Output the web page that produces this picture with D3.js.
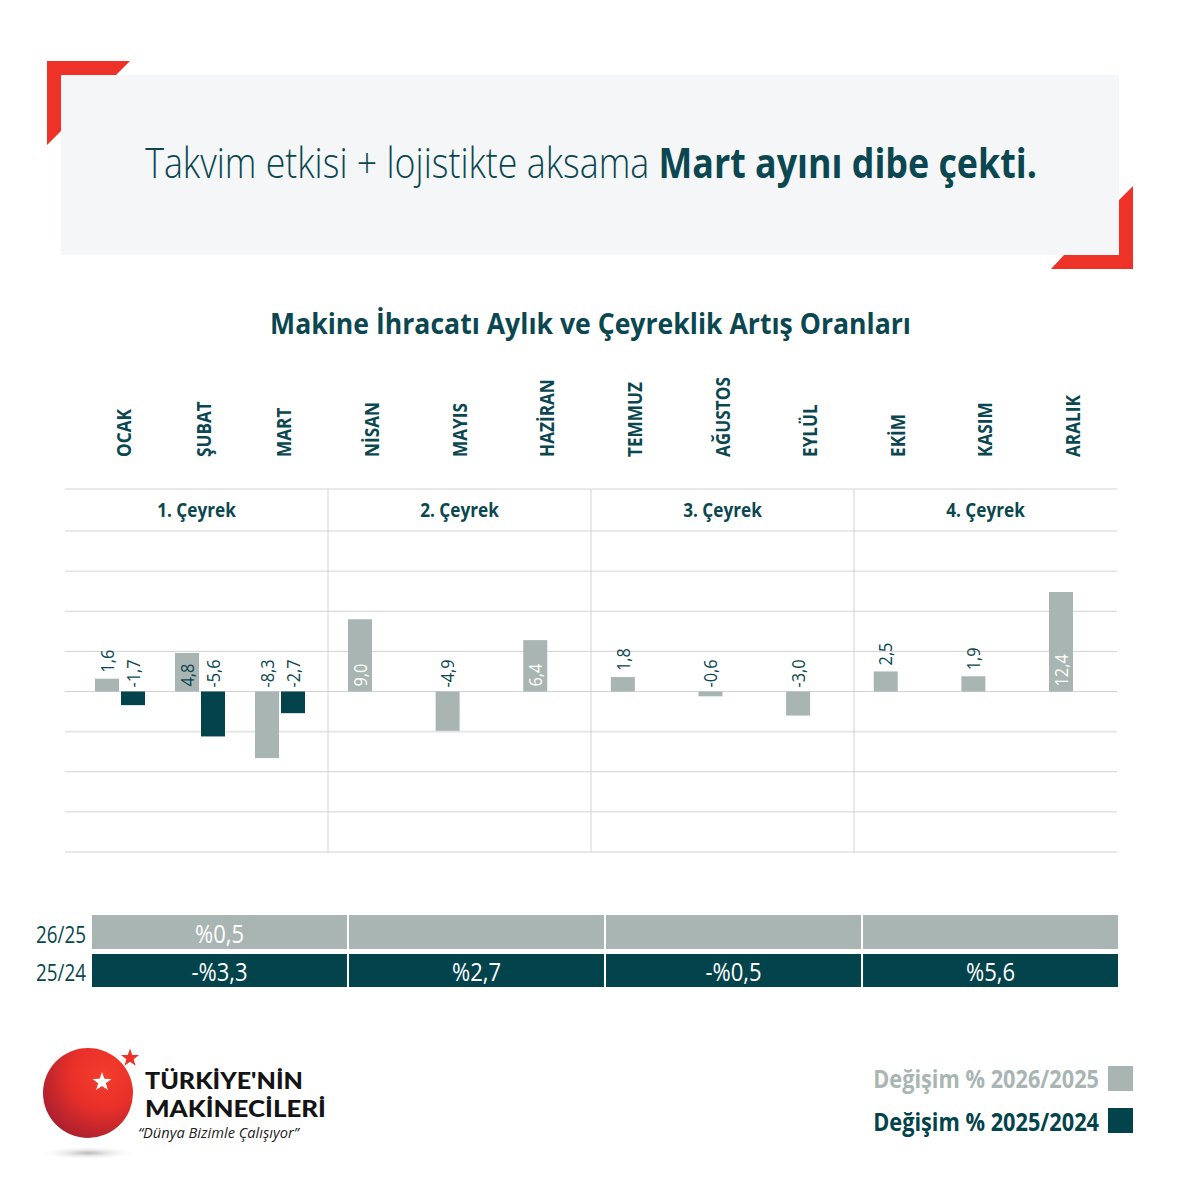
<!DOCTYPE html>
<html><head><meta charset="utf-8">
<script src="https://cdn.jsdelivr.net/npm/d3@7"></script>
<style>html,body{margin:0;padding:0;background:#fff;} svg{display:block;}</style>
</head><body>
<svg id="chart" width="1181" height="1181"></svg>
<script>
// ---------- DATA ----------
const months = ["OCAK","ŞUBAT","MART","NİSAN","MAYIS","HAZİRAN","TEMMUZ","AĞUSTOS","EYLÜL","EKİM","KASIM","ARALIK"];
const quarters = ["1. Çeyrek","2. Çeyrek","3. Çeyrek","4. Çeyrek"];
// light (gray) bars and dark bars, as drawn
const lightValues = [1.6, 4.8, -8.3, 9.0, -4.9, 6.4, 1.8, -0.6, -3.0, 2.5, 1.9, 12.4];
const darkValues  = [-1.7, -5.6, -2.7, null, null, null, null, null, null, null, null, null];
// quarterly table
const rowLabels = ["26/25", "25/24"];
const quarterly2625 = [0.5, null, null, null];
const quarterly2524 = [-3.3, 2.7, -0.5, 5.6];
const legendLabels = ["Değişim % 2026/2025", "Değişim % 2025/2024"];
const yTicks = [-20, -15, -10, -5, 0, 5, 10, 15, 20];

// ---------- STYLE ----------
const TEAL = "#0b4750", DARK = "#02434c", GRAY = "#a9b5b3", RED = "#ee3228", GRID = "#d2d2d2";
const FONT = "'Open Sans', 'Noto Sans', sans-serif";

const svg = d3.select("#chart");
const fmt = v => (v < 0 ? "-" : "") + Math.abs(v).toFixed(1).replace(".", ",");
const fmtPct = v => (v < 0 ? "-%" : "%") + Math.abs(v).toFixed(1).replace(".", ",");

function fitWidth(text, target) {
  const w = text.node().getComputedTextLength();
  return w > 0 ? target / w : 1;
}
function hText(x, y, opts) {
  const g = svg.append("g");
  const t = g.append("text").attr("x", 0).attr("y", 0)
    .attr("text-anchor", opts.anchor || "middle")
    .attr("font-family", opts.family || FONT)
    .attr("font-size", opts.size).attr("font-weight", opts.weight || 400)
    .attr("font-style", opts.style || "normal")
    .attr("fill", opts.fill || TEAL);
  if (opts.parts) {
    opts.parts.forEach(p => t.append("tspan").attr("font-weight", p.weight).text(p.text));
  } else t.text(opts.text);
  const sx = opts.width ? fitWidth(t, opts.width) : (opts.sx || 1);
  g.attr("transform", `translate(${x},${y}) scale(${sx},${opts.sy || 1})`);
  return g;
}

// ---------- HEADER ----------
svg.append("rect").attr("x", 61).attr("y", 75).attr("width", 1058).attr("height", 180).attr("fill", "#f5f6f8");
svg.append("polygon").attr("points", "47,61 130,61 116,75 61,75 61,131 47,145").attr("fill", RED);
svg.append("polygon").attr("points", "1133,186 1133,269 1051,269 1064,255 1119,255 1119,200").attr("fill", RED);
hText(591, 178, {size: 42, fill: TEAL, width: 892,
  parts: [{text: "Takvim etkisi + lojistikte aksama ", weight: 300}, {text: "Mart ayını dibe çekti.", weight: 700}]});

hText(590.5, 334, {size: 29, weight: 700, fill: TEAL, width: 641, text: "Makine İhracatı Aylık ve Çeyreklik Artış Oranları"});

// ---------- SCALES ----------
const qScale = d3.scaleBand().domain(quarters).range([65, 1117]);
const mScale = d3.scaleLinear().domain([0, 2, 3, 11]).range([120, 280, 372, 1073]);
const y = d3.scaleLinear().domain([-20, 20]).range([852, 531]);
const headerTop = 489;

// ---------- GRID ----------
const grid = svg.append("g");
grid.append("line").attr("x1", 65).attr("x2", 1117).attr("y1", headerTop).attr("y2", headerTop)
  .attr("stroke", GRID).attr("stroke-width", 1);
grid.selectAll("line.h").data(yTicks).join("line").attr("class", "h")
  .attr("x1", 65).attr("x2", 1117).attr("y1", d => y(d)).attr("y2", d => y(d))
  .attr("stroke", d => d === -5 ? "#e4e4e4" : GRID).attr("stroke-width", d => d === -5 ? 1.6 : 1);
grid.selectAll("line.v").data(quarters.slice(1)).join("line").attr("class", "v")
  .attr("x1", d => qScale(d)).attr("x2", d => qScale(d)).attr("y1", headerTop).attr("y2", y(-20))
  .attr("stroke", GRID).attr("stroke-width", 1);

// quarter headers
quarters.forEach(q => hText(qScale(q) + qScale.bandwidth() / 2, 517, {size: 20, weight: 700, sx: 0.86, text: q}));

// month labels (rotated)
months.forEach((m, i) => {
  const px = mScale(i) + (darkValues[i] != null ? 4 : 0);
  svg.append("text").attr("transform", `translate(${px},457) rotate(-90) scale(0.86,1)`)
    .attr("dy", "0.35em").attr("text-anchor", "start")
    .attr("font-family", FONT).attr("font-size", 20).attr("font-weight", 700).attr("fill", TEAL)
    .text(m);
});

// ---------- BARS ----------
const barW = 24;
const bars = [];
lightValues.forEach((v, i) => {
  const pair = darkValues[i] != null;
  bars.push({v, x: pair ? mScale(i) - 25 : mScale(i) - 24, color: GRAY});
  if (pair) bars.push({v: darkValues[i], x: mScale(i) + 1, color: DARK});
});
svg.append("g").selectAll("rect").data(bars).join("rect")
  .attr("x", d => d.x).attr("width", barW)
  .attr("y", d => y(Math.max(0, d.v))).attr("height", d => Math.abs(y(d.v) - y(0)))
  .attr("fill", d => d.color);

// value labels
const lblSize = 19, lblSx = 0.86;
bars.forEach(d => {
  const t = svg.append("text").attr("dy", "0.35em").attr("text-anchor", "start")
    .attr("font-family", FONT).attr("font-size", lblSize).attr("font-weight", 500).text(fmt(d.v));
  const len = t.node().getComputedTextLength() * lblSx;
  const h = Math.abs(y(d.v) - y(0));
  let start, fill = TEAL;
  if (d.v > 0 && h > len + 6) {
    start = y(0) - 5;
    if (h > len + 20) fill = "#ffffff";
  } else if (d.v > 0) {
    start = y(d.v) - 6;
  } else {
    start = y(0) - 4;
  }
  t.attr("fill", fill).attr("transform", `translate(${d.x + barW / 2},${start}) rotate(-90) scale(${lblSx},1)`);
});

// ---------- QUARTER TABLE ----------
const tScale = d3.scaleBand().domain(quarters).range([92, 1118]).paddingInner(0.008);
const rows = [
  {label: rowLabels[0], vals: quarterly2625, y: 915, h: 34, fill: GRAY, base: 943},
  {label: rowLabels[1], vals: quarterly2524, y: 954, h: 33, fill: DARK, base: 981}
];
rows.forEach(r => {
  svg.append("g").selectAll("rect").data(quarters).join("rect")
    .attr("x", q => tScale(q)).attr("width", tScale.bandwidth())
    .attr("y", r.y).attr("height", r.h).attr("fill", r.fill);
  r.vals.forEach((v, i) => {
    if (v == null) return;
    const q = quarters[i];
    hText(tScale(q) + tScale.bandwidth() / 2, r.base, {size: 25, weight: 400, fill: "#ffffff", sx: 0.88, text: fmtPct(v)});
  });
  hText(86, r.base, {size: 24, weight: 400, fill: TEAL, anchor: "end", width: 50, text: r.label});
});

// ---------- LEGEND ----------
[[GRAY, 1088, 1066], [DARK, 1131, 1108]].forEach(([c, base, sy], i) => {
  hText(1099, base, {size: 25, weight: 700, fill: c, anchor: "end", width: 226, text: legendLabels[i]});
  svg.append("rect").attr("x", 1108).attr("y", sy).attr("width", 25).attr("height", 25).attr("fill", c);
});

// ---------- LOGO ----------
const defs = svg.append("defs");
const rg = defs.append("radialGradient").attr("id", "logoGrad").attr("cx", "68%").attr("cy", "30%").attr("r", "85%");
rg.append("stop").attr("offset", "0%").attr("stop-color", "#f43d2c");
rg.append("stop").attr("offset", "45%").attr("stop-color", "#e8302a");
rg.append("stop").attr("offset", "100%").attr("stop-color", "#9e1c30");
const sg = defs.append("radialGradient").attr("id", "shadowGrad");
sg.append("stop").attr("offset", "0%").attr("stop-color", "#9a9a9a").attr("stop-opacity", 0.7);
sg.append("stop").attr("offset", "100%").attr("stop-color", "#ffffff").attr("stop-opacity", 0);
svg.append("ellipse").attr("cx", 88).attr("cy", 1153).attr("rx", 50).attr("ry", 7).attr("fill", "url(#shadowGrad)");
svg.append("circle").attr("cx", 88).attr("cy", 1093).attr("r", 45).attr("fill", "url(#logoGrad)");
function starPath(cx, cy, R, r) {
  const pts = [];
  for (let k = 0; k < 10; k++) {
    const a = -Math.PI / 2 + k * Math.PI / 5;
    const rr = k % 2 === 0 ? R : r;
    pts.push([cx + rr * Math.cos(a), cy + rr * Math.sin(a)]);
  }
  return "M" + pts.map(p => p.join(",")).join("L") + "Z";
}
svg.append("path").attr("d", starPath(102, 1082, 10, 4)).attr("fill", "#fff");
svg.append("path").attr("d", starPath(130, 1058, 9.5, 3.8)).attr("fill", RED);
const brandFont = "Lato, 'Open Sans', sans-serif";
hText(145, 1089, {size: 22, weight: 900, fill: "#141414", anchor: "start", width: 158, sy: 1.06, family: brandFont, text: "TÜRKİYE'NİN"});
hText(145, 1117, {size: 22, weight: 900, fill: "#141414", anchor: "start", width: 181, sy: 1.06, family: brandFont, text: "MAKİNECİLERİ"});
hText(138, 1138, {size: 14, weight: 400, style: "italic", fill: "#222", anchor: "start", width: 161, text: "“Dünya Bizimle Çalışıyor”"});
</script>
</body></html>
